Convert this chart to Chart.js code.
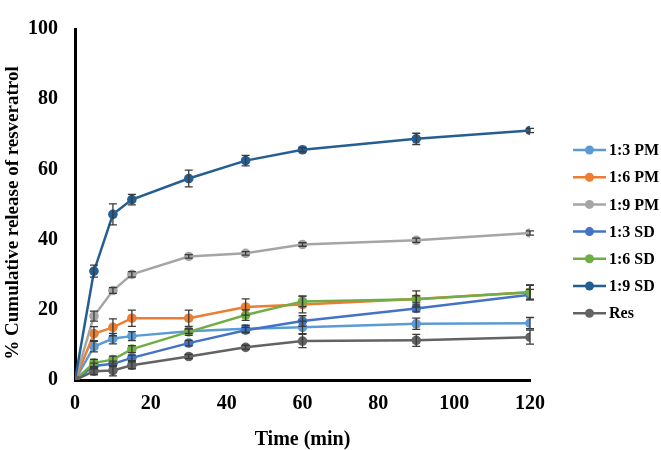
<!DOCTYPE html>
<html>
<head>
<meta charset="utf-8">
<script src="https://cdn.jsdelivr.net/npm/chart.js@4.4.1/dist/chart.umd.min.js"></script>
<style>
    html, body { margin: 0; padding: 0; background: #fff; }
    #wrap { width: 661px; height: 450px; position: relative; }
</style>
</head>
<body>
<div id="wrap"><canvas id="releaseChart"></canvas></div>
<script>
// sampling times (min)
const times = [0, 5, 10, 15, 30, 45, 60, 90, 120];

// cumulative release (%) per formulation
const pm13 = [0, 9.5, 11.8, 12.5, 13.9, 14.6, 15.0, 16.0, 16.2];
const pm16 = [0, 13.2, 15.0, 17.6, 17.6, 20.8, 21.5, 23.1, 25.0];
const pm19 = [0, 18.2, 25.5, 30.1, 35.2, 36.1, 38.6, 39.8, 41.9];
const sd13 = [0, 4.0, 4.6, 6.3, 10.5, 14.2, 16.8, 20.4, 24.3];
const sd16 = [0, 4.9, 5.8, 8.8, 13.7, 18.5, 22.4, 23.0, 25.0];
const sd19 = [0, 31.0, 47.2, 51.4, 57.4, 62.5, 65.6, 68.7, 71.1];
const res  = [0, 2.5, 2.7, 4.2, 6.7, 9.3, 11.1, 11.3, 12.2];

// standard deviations (error bars)
const pm13Err = [0, 1.5, 1.5, 1.3, 0.6, 1.0, 1.8, 1.6, 1.6];
const pm16Err = [0, 2.0, 2.4, 2.3, 2.3, 2.3, 2.4, 2.3, 2.1];
const pm19Err = [0, 1.4, 0.8, 0.8, 0.5, 0.5, 0.5, 0.6, 0.6];
const sd13Err = [0, 0.8, 0.8, 0.8, 0.8, 0.8, 1.5, 1.0, 1.5];
const sd16Err = [0, 1.0, 1.0, 1.0, 1.0, 1.5, 1.5, 1.0, 2.0];
const sd19Err = [0, 1.7, 3.0, 1.5, 2.4, 1.5, 0.6, 1.6, 0.6];
const resErr  = [0, 1.0, 1.5, 1.0, 0.6, 0.6, 1.9, 1.7, 2.0];

const seriesLabels = ['1:3 PM', '1:6 PM', '1:9 PM', '1:3 SD', '1:6 SD', '1:9 SD', 'Res'];
const yTicks = [0, 20, 40, 60, 80, 100];
const xTicks = [0, 20, 40, 60, 80, 100, 120];

const serif = "'Times New Roman', 'Liberation Serif', serif";

(function() {
    'use strict';

    const seriesValues = [pm13, pm16, pm19, sd13, sd16, sd19, res];
    const seriesErrors = [pm13Err, pm16Err, pm19Err, sd13Err, sd16Err, sd19Err, resErr];
    const colors = ['#5B9BD5', '#ED7D31', '#A5A5A5', '#4472C4', '#70AD47', '#255E91', '#636363'];

    const datasets = seriesLabels.map(function(label, i) {
        return {
            label: label,
            data: times.map(function(t, j) { return { x: t, y: seriesValues[i][j] }; }),
            errors: seriesErrors[i],
            borderColor: colors[i],
            backgroundColor: colors[i],
            borderWidth: 2.5,
            pointRadius: 4.8,
            pointBorderWidth: 0,
            tension: 0,
            order: seriesLabels.length - i
        };
    });

    // error bars drawn through the scales
    const errorBars = {
        id: 'errorBars',
        afterDatasetsDraw(chart) {
            const ctx = chart.ctx;
            const xs = chart.scales.x, ys = chart.scales.y;
            ctx.save();
            ctx.strokeStyle = '#3a3a3a';
            ctx.lineWidth = 1.3;
            chart.data.datasets.forEach(function(ds) {
                ds.data.forEach(function(p, j) {
                    const e = ds.errors[j];
                    if (!e) return;
                    const px = xs.getPixelForValue(p.x);
                    const top = ys.getPixelForValue(p.y + e);
                    const bot = ys.getPixelForValue(p.y - e);
                    ctx.beginPath();
                    ctx.moveTo(px, top); ctx.lineTo(px, bot);
                    ctx.moveTo(px - 4, top); ctx.lineTo(px + 4, top);
                    ctx.moveTo(px - 4, bot); ctx.lineTo(px + 4, bot);
                    ctx.stroke();
                });
            });
            ctx.restore();
        }
    };

    // line + marker legend on the right, and the y axis title
    const sideLegend = {
        id: 'sideLegend',
        afterDraw(chart) {
            const ctx = chart.ctx;
            ctx.save();
            chart.data.datasets.forEach(function(ds, i) {
                const y = 150 + i * 27.2;
                ctx.strokeStyle = ds.borderColor;
                ctx.lineWidth = 2.5;
                ctx.beginPath();
                ctx.moveTo(573, y); ctx.lineTo(606, y);
                ctx.stroke();
                ctx.fillStyle = ds.backgroundColor;
                ctx.beginPath();
                ctx.arc(589.5, y, 4.5, 0, Math.PI * 2);
                ctx.fill();
                ctx.fillStyle = '#000';
                ctx.font = 'bold 16px ' + serif;
                ctx.textBaseline = 'middle';
                ctx.fillText(ds.label, 609, y + 1);
            });

            // rotated y title
            ctx.translate(13, 213);
            ctx.rotate(-Math.PI / 2);
            ctx.fillStyle = '#000';
            ctx.font = 'bold 19px ' + serif;
            ctx.textAlign = 'center';
            ctx.textBaseline = 'middle';
            ctx.fillText('% Cumulative release of resveratrol', 0, 0);
            ctx.restore();
        }
    };

    new Chart(document.getElementById('releaseChart'), {
        type: 'line',
        data: { datasets: datasets },
        options: {
            responsive: true,
            maintainAspectRatio: false,
            animation: false,
            layout: { padding: { top: 19, right: 131, left: 0, bottom: 0 } },
            plugins: {
                legend: { display: false },
                tooltip: { enabled: false }
            },
            scales: {
                x: {
                    type: 'linear',
                    min: 0,
                    max: 120,
                    afterFit: function(scale) { scale.height = 70; },
                    afterBuildTicks: function(scale) {
                        scale.ticks = xTicks.map(function(v) { return { value: v }; });
                    },
                    grid: { display: false, drawTicks: false },
                    border: { display: true, color: '#000', width: 3 },
                    ticks: {
                        color: '#000',
                        padding: 12,
                        maxRotation: 0,
                        font: { family: serif, size: 20, weight: 'bold' }
                    },
                    title: {
                        display: true,
                        text: 'Time (min)',
                        color: '#000',
                        padding: { top: 0, bottom: 0 },
                        font: { family: serif, size: 20, weight: 'bold', lineHeight: 1 }
                    }
                },
                y: {
                    min: 0,
                    max: 100,
                    afterFit: function(scale) { scale.width = 75; },
                    afterBuildTicks: function(scale) {
                        scale.ticks = yTicks.map(function(v) { return { value: v }; });
                    },
                    grid: { display: false, drawTicks: false },
                    border: { display: true, color: '#000', width: 3 },
                    ticks: {
                        color: '#000',
                        padding: 17,
                        font: { family: serif, size: 20, weight: 'bold' }
                    }
                }
            }
        },
        plugins: [errorBars, sideLegend]
    });
})();
</script>
</body>
</html>
